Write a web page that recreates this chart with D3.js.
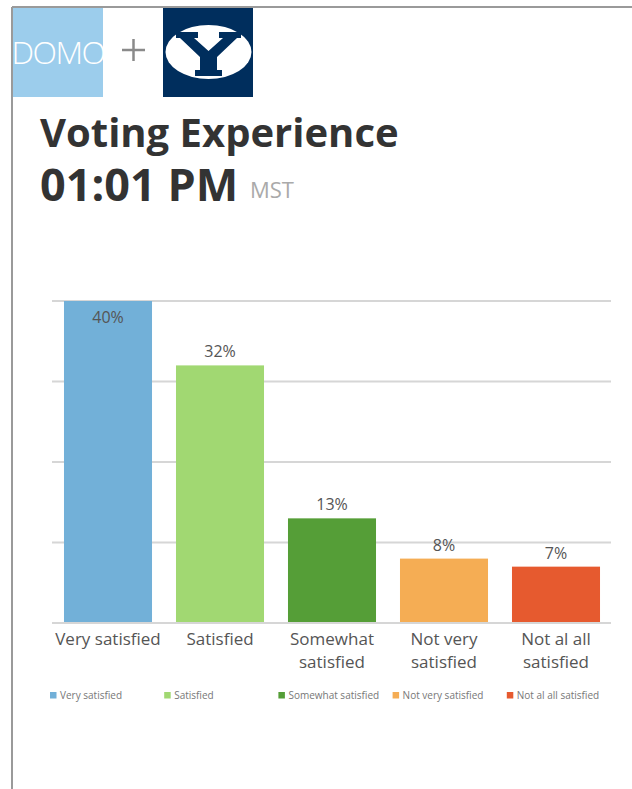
<!DOCTYPE html>
<html>
<head>
<meta charset="utf-8">
<script src="https://cdn.jsdelivr.net/npm/d3@7"></script>
<style>
  body { margin: 0; background: #fff; }
  svg { display: block; font-family: "Open Sans", "Noto Sans", sans-serif; }
</style>
</head>
<body>
<svg id="vis"></svg>
<script>
const categories = ["Very satisfied", "Satisfied", "Somewhat satisfied", "Not very satisfied", "Not al all satisfied"];
const values = [40, 32, 13, 8, 7];
const colors = ["#72b0d8", "#a1d872", "#559e37", "#f5ad54", "#e65a2f"];
const yTicks = [0, 10, 20, 30, 40];

const width = 632, height = 789;
const svg = d3.select("#vis").attr("width", width).attr("height", height);

// page frame
svg.append("line").attr("x1", 12).attr("x2", width).attr("y1", 7).attr("y2", 7)
  .attr("stroke", "#9a9a9a").attr("stroke-width", 2);
svg.append("line").attr("x1", 12).attr("x2", 12).attr("y1", 7).attr("y2", height)
  .attr("stroke", "#9a9a9a").attr("stroke-width", 2);

// logos
const logos = svg.append("g");
logos.append("clipPath").attr("id", "domoClip")
  .append("rect").attr("x", 13).attr("y", 8).attr("width", 90).attr("height", 89);
logos.append("rect").attr("x", 13).attr("y", 8).attr("width", 90).attr("height", 89).attr("fill", "#9ccdec");
logos.append("text").attr("x", 58).attr("y", 64).attr("text-anchor", "middle")
  .attr("clip-path", "url(#domoClip)")
  .attr("fill", "#fff").attr("font-size", 32).attr("font-weight", 300).attr("letter-spacing", -1.5)
  .text("DOMO");
logos.append("line").attr("x1", 122).attr("x2", 145).attr("y1", 50).attr("y2", 50).attr("stroke", "#8a8a8a").attr("stroke-width", 2.5);
logos.append("line").attr("x1", 133.5).attr("x2", 133.5).attr("y1", 39).attr("y2", 61).attr("stroke", "#8a8a8a").attr("stroke-width", 2.5);
logos.append("rect").attr("x", 163).attr("y", 8).attr("width", 90).attr("height", 89).attr("fill", "#002e5d");
logos.append("ellipse").attr("cx", 208.5).attr("cy", 52).attr("rx", 43).attr("ry", 27).attr("fill", "#fff");
logos.append("polygon").attr("fill", "#002e5d")
  .attr("points", "176,32 198,32 198,38 194,38 208.5,51 223,38 219,38 219,32 241,32 241,38 237,38 217,57 217,70 222,70 222,76 195,76 195,70 200,70 200,57 180,38 176,38");

// titles
svg.append("text").attr("x", 40).attr("y", 147).attr("font-size", 40).attr("font-weight", 700)
  .attr("fill", "#333").text("Voting Experience");
svg.append("text").attr("x", 40).attr("y", 201).attr("font-size", 45).attr("font-weight", 700)
  .attr("fill", "#333").text("01:01 PM");
svg.append("text").attr("x", 250).attr("y", 198).attr("font-size", 22)
  .attr("fill", "#aaa").text("MST");

// chart
const plot = { left: 52, right: 612, top: 301, bottom: 623 };
const x = d3.scaleBand().domain(categories).range([plot.left, plot.right])
  .paddingInner(0.214).paddingOuter(0.107);
const y = d3.scaleLinear().domain([0, 40]).range([plot.bottom, plot.top]);

svg.append("g").selectAll("line").data(yTicks).join("line")
  .attr("x1", plot.left).attr("x2", plot.right - 1)
  .attr("y1", d => y(d)).attr("y2", d => y(d))
  .attr("stroke", "#d6d6d6").attr("stroke-width", 2);

svg.append("g").selectAll("rect").data(categories).join("rect")
  .attr("x", d => x(d)).attr("width", x.bandwidth())
  .attr("y", (d, i) => y(values[i])).attr("height", (d, i) => plot.bottom - 1 - y(values[i]))
  .attr("fill", (d, i) => colors[i]);

svg.append("g").selectAll("text").data(categories).join("text")
  .attr("x", d => x(d) + x.bandwidth() / 2)
  .attr("y", (d, i) => Math.max(y(values[i]) - 8, plot.top + 22))
  .attr("text-anchor", "middle").attr("font-size", 16).attr("fill", "#555")
  .text((d, i) => values[i] + "%");

// category labels, wrapped to the band step
const xLabels = svg.append("g").selectAll("text").data(categories).join("text")
  .attr("x", d => x(d) + x.bandwidth() / 2).attr("y", 645)
  .attr("text-anchor", "middle").attr("font-size", 17).attr("fill", "#555");
xLabels.each(function(d) {
  const t = d3.select(this);
  const words = d.split(" ");
  let line = [];
  let tspan = t.append("tspan").attr("x", x(d) + x.bandwidth() / 2).attr("dy", 0);
  words.forEach(w => {
    line.push(w);
    tspan.text(line.join(" "));
    if (tspan.node().getComputedTextLength() > x.step() && line.length > 1) {
      line.pop();
      tspan.text(line.join(" "));
      line = [w];
      tspan = t.append("tspan").attr("x", x(d) + x.bandwidth() / 2).attr("dy", 23).text(w);
    }
  });
});

// legend
const legend = svg.append("g").selectAll("g").data(categories).join("g")
  .attr("transform", (d, i) => `translate(${50 + i * 114.2},692)`);
legend.append("rect").attr("width", 6.5).attr("height", 6.5).attr("fill", (d, i) => colors[i]);
legend.append("text").attr("x", 10).attr("y", 7).attr("font-size", 10).attr("fill", "#777").text(d => d);
</script>
</body>
</html>
